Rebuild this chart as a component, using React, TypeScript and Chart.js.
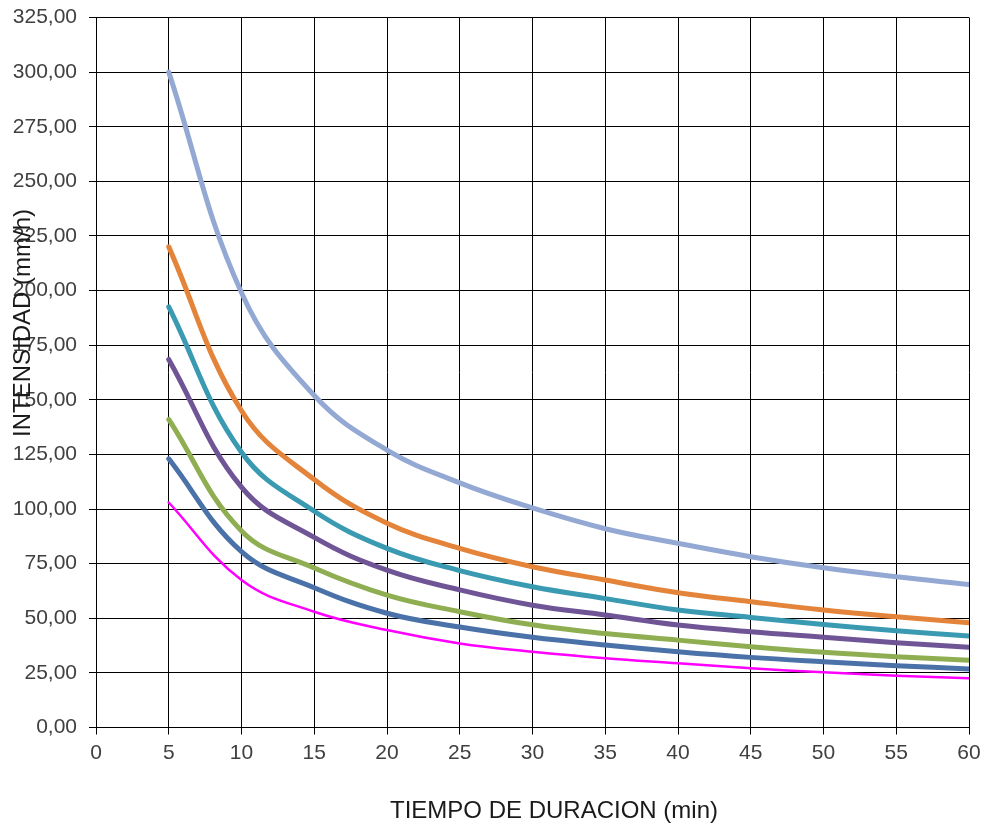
import React, { useEffect, useRef } from "react";
import { Chart, registerables } from "chart.js";

Chart.register(...registerables);

const durations = [5, 10, 15, 20, 25, 30, 35, 40, 45, 50, 55, 60];

const serie1 = [300, 199, 152, 127, 112, 100.5, 91, 84.3, 78.2, 73.1, 69, 65.5];
const serie2 = [220, 145, 113.5, 93.5, 82, 73.6, 67.5, 61.7, 57.6, 53.8, 50.7, 48];
const serie3 = [192.5, 126, 99, 82, 71.8, 64.4, 59, 53.8, 50.4, 47.2, 44.3, 41.9];
const serie4 = [168.5, 110, 87, 72, 63, 56, 51.5, 46.9, 43.8, 41.3, 38.8, 36.7];
const serie5 = [141, 90, 73, 60.6, 53, 47, 43, 40, 37, 34.4, 32.4, 30.8];
const serie6 = [123, 80.5, 64, 52.3, 46, 41.3, 37.8, 34.7, 32.1, 30.1, 28.3, 26.8];
const serie7 = [103, 67.5, 53, 44.6, 38.5, 34.7, 31.7, 29.4, 27.1, 25.3, 23.7, 22.5];

const yTitle = "INTENSIDAD (mm/h)";
const xTitle = "TIEMPO DE DURACION (min)";

const seriesDefs = [
  { label: "Serie 1", data: serie1, color: "#93A9D3", width: 5 },
  { label: "Serie 2", data: serie2, color: "#E3843A", width: 5 },
  { label: "Serie 3", data: serie3, color: "#3A9AB2", width: 5 },
  { label: "Serie 4", data: serie4, color: "#6F5596", width: 5 },
  { label: "Serie 5", data: serie5, color: "#8FAE52", width: 5 },
  { label: "Serie 6", data: serie6, color: "#4A72A8", width: 5 },
  { label: "Serie 7", data: serie7, color: "#FF00FF", width: 2.5 },
];

const titlesPlugin = {
  id: "customTitles",
  afterDraw(chart: any) {
    const ctx = chart.ctx;
    ctx.save();
    ctx.fillStyle = "#1a1a1a";
    ctx.font = "24px 'Liberation Sans', Arial, sans-serif";
    ctx.textAlign = "center";
    ctx.textBaseline = "middle";
    ctx.fillText(xTitle, 554, 811);
    ctx.translate(23, 323);
    ctx.rotate(-Math.PI / 2);
    ctx.fillText(yTitle, 0, 0);
    ctx.restore();
  },
};

export default function App() {
  const ref = useRef<HTMLCanvasElement | null>(null);
  useEffect(() => {
    document.body.style.margin = "0";
    if (!ref.current) return;
    const chart = new Chart(ref.current, {
      type: "line",
      data: {
        datasets: seriesDefs.map((s) => ({
          label: s.label,
          data: durations.map((d, i) => ({ x: d, y: s.data[i] })),
          borderColor: s.color,
          backgroundColor: s.color,
          borderWidth: s.width,
          pointRadius: 0,
          tension: 0.4,
          fill: false,
          borderCapStyle: "round" as const,
        })),
      },
      options: {
        animation: false,
        responsive: false,
        maintainAspectRatio: false,
        layout: { padding: { top: 17.5, right: 15, left: 0, bottom: 0 } },
        plugins: { legend: { display: false }, tooltip: { enabled: false } },
        scales: {
          x: {
            type: "linear",
            min: 0,
            max: 60,
            ticks: {
              stepSize: 5,
              color: "#404040",
              font: { size: 21, family: "'Liberation Sans', Arial, sans-serif" },
              padding: 6,
              maxRotation: 0,
            },
            grid: { color: "#000000", lineWidth: 1, tickLength: 7 },
            border: { color: "#000000", width: 1 },
            afterFit(scale: any) {
              scale.height = 99.5;
              scale.paddingLeft = 0;
              scale.paddingRight = 0;
            },
          },
          y: {
            min: 0,
            max: 325,
            ticks: {
              stepSize: 25,
              color: "#404040",
              font: { size: 21, family: "'Liberation Sans', Arial, sans-serif" },
              padding: 12,
              callback: (v: any) => Number(v).toFixed(2).replace(".", ","),
            },
            grid: { color: "#000000", lineWidth: 1, tickLength: 7 },
            border: { color: "#000000", width: 1 },
            afterFit(scale: any) {
              scale.width = 96;
              scale.paddingTop = 0;
              scale.paddingBottom = 0;
            },
          },
        },
      },
      plugins: [titlesPlugin],
    });
    return () => chart.destroy();
  }, []);
  return <canvas ref={ref} width={984} height={827} style={{ display: "block" }} />;
}
